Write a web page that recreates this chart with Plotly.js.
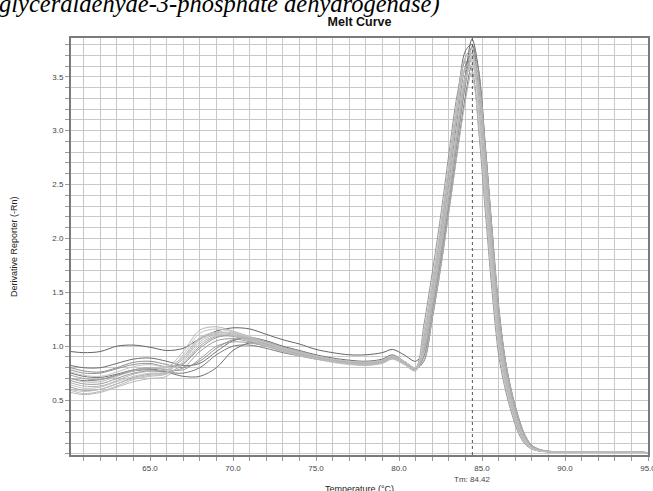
<!DOCTYPE html>
<html>
<head>
<meta charset="utf-8">
<script src="https://cdn.plot.ly/plotly-3.0.1.min.js"></script>
<style>html,body{margin:0;padding:0;background:#fff;overflow:hidden}#chart{width:653px;height:491px}</style>
</head>
<body>
<div id="chart"></div>
<script>
// Temperature grid (°C)
const temps = [60.24, 61, 62, 63, 64, 65, 66, 67, 68, 69, 70, 71, 72, 73, 74, 75, 76, 77, 78, 79, 79.6, 80.3, 81,
  81.5, 82, 82.5, 83, 83.5, 84, 84.4, 84.8, 85.2, 85.6, 86, 86.4, 86.8, 87.2, 87.6, 88, 88.5, 89, 90, 91, 92, 93, 94, 95];

// Derivative reporter (-Rn) per well
const wellL1 = [0.57,0.55,0.57,0.62,0.67,0.70,0.72,0.86,1.04,1.11,1.10,1.05,1.00,0.95,0.91,0.88,0.85,0.83,0.82,0.84,0.88,0.83,0.77,
  1.14,1.60,2.12,2.70,3.26,3.58,3.50,3.05,2.32,1.60,0.98,0.64,0.40,0.21,0.10,0.048,0.027,0.02,0.018,0.017,0.017,0.019,0.017,0.012];
const wellL2 = [0.64,0.61,0.62,0.67,0.72,0.75,0.76,0.92,1.12,1.16,1.13,1.08,1.03,0.98,0.94,0.90,0.87,0.85,0.84,0.86,0.90,0.85,0.79,
  1.01,1.45,1.94,2.47,3.04,3.50,3.60,3.28,2.56,1.82,1.14,0.74,0.47,0.27,0.13,0.06,0.03,0.02,0.019,0.018,0.018,0.02,0.018,0.012];
const wellL3 = [0.70,0.67,0.67,0.72,0.77,0.80,0.80,0.95,1.15,1.18,1.14,1.09,1.04,0.99,0.95,0.91,0.88,0.86,0.85,0.87,0.91,0.86,0.80,
  0.94,1.35,1.84,2.37,2.94,3.46,3.68,3.45,2.76,1.98,1.27,0.81,0.52,0.30,0.15,0.07,0.034,0.022,0.02,0.018,0.018,0.02,0.018,0.012];
const wellL4 = [0.60,0.58,0.60,0.65,0.70,0.73,0.75,0.90,1.08,1.13,1.11,1.06,1.01,0.96,0.92,0.89,0.86,0.84,0.83,0.85,0.89,0.84,0.78,
  1.05,1.50,2.00,2.56,3.14,3.58,3.64,3.20,2.48,1.74,1.08,0.70,0.44,0.25,0.12,0.055,0.03,0.02,0.019,0.018,0.018,0.02,0.018,0.012];
const wellL5 = [0.66,0.63,0.63,0.68,0.74,0.77,0.78,0.88,1.06,1.12,1.12,1.07,1.02,0.97,0.93,0.90,0.87,0.85,0.84,0.86,0.90,0.85,0.79,
  0.87,1.26,1.72,2.24,2.78,3.28,3.54,3.42,2.82,2.08,1.36,0.87,0.56,0.33,0.17,0.08,0.04,0.025,0.02,0.019,0.018,0.02,0.018,0.013];
const wellL6 = [0.76,0.73,0.72,0.76,0.81,0.83,0.81,0.90,1.07,1.13,1.12,1.08,1.03,0.98,0.94,0.91,0.88,0.86,0.85,0.87,0.91,0.86,0.80,
  1.10,1.56,2.08,2.66,3.24,3.68,3.70,3.15,2.40,1.67,1.02,0.66,0.41,0.22,0.11,0.05,0.028,0.02,0.018,0.018,0.017,0.019,0.017,0.012];
const wellL7 = [0.59,0.56,0.58,0.63,0.69,0.72,0.74,0.84,1.02,1.10,1.10,1.06,1.01,0.96,0.92,0.89,0.86,0.84,0.83,0.85,0.89,0.84,0.78,
  0.98,1.41,1.90,2.43,3.00,3.48,3.62,3.36,2.67,1.90,1.20,0.77,0.49,0.28,0.14,0.063,0.031,0.021,0.02,0.018,0.018,0.02,0.018,0.012];
const wellM1 = [0.78,0.75,0.75,0.79,0.83,0.84,0.81,0.84,0.98,1.08,1.10,1.07,1.03,0.98,0.94,0.91,0.88,0.86,0.85,0.87,0.91,0.86,0.80,
  1.20,1.68,2.20,2.78,3.33,3.64,3.56,3.00,2.25,1.52,0.92,0.60,0.37,0.19,0.09,0.045,0.025,0.02,0.018,0.017,0.017,0.019,0.017,0.012];
const wellM2 = [0.68,0.65,0.65,0.70,0.75,0.77,0.76,0.80,0.95,1.05,1.07,1.04,1.00,0.96,0.93,0.90,0.87,0.85,0.84,0.86,0.90,0.85,0.79,
  0.97,1.40,1.90,2.44,3.02,3.52,3.66,3.40,2.70,1.92,1.21,0.78,0.50,0.29,0.14,0.065,0.032,0.021,0.02,0.018,0.018,0.02,0.018,0.012];
const wellM3 = [0.73,0.70,0.69,0.73,0.78,0.80,0.78,0.78,0.88,1.00,1.04,1.03,1.00,0.96,0.92,0.89,0.86,0.84,0.83,0.85,0.89,0.84,0.78,
  1.04,1.50,2.00,2.57,3.17,3.68,3.76,3.28,2.52,1.77,1.09,0.71,0.45,0.25,0.12,0.055,0.03,0.02,0.019,0.018,0.018,0.02,0.018,0.012];
const wellM4 = [0.62,0.59,0.60,0.65,0.71,0.74,0.75,0.83,1.00,1.09,1.09,1.05,1.00,0.95,0.92,0.89,0.86,0.84,0.83,0.85,0.89,0.84,0.78,
  0.90,1.30,1.78,2.31,2.88,3.42,3.70,3.50,2.83,2.05,1.33,0.85,0.55,0.32,0.16,0.075,0.037,0.023,0.02,0.019,0.018,0.02,0.018,0.013];
const wellM5 = [0.80,0.77,0.76,0.80,0.85,0.86,0.83,0.80,0.86,0.98,1.06,1.07,1.04,0.99,0.95,0.91,0.88,0.86,0.85,0.87,0.91,0.86,0.80,
  0.91,1.32,1.80,2.33,2.90,3.44,3.78,3.55,2.85,2.06,1.34,0.86,0.55,0.32,0.16,0.075,0.037,0.023,0.02,0.019,0.018,0.02,0.018,0.013];
const wellD1 = [0.95,0.94,0.95,1.00,1.01,0.99,0.96,0.98,1.07,1.14,1.17,1.16,1.11,1.06,1.02,0.97,0.94,0.92,0.92,0.94,0.97,0.92,0.86,
  0.96,1.36,1.85,2.38,2.96,3.52,3.85,3.56,2.80,2.00,1.28,0.82,0.53,0.31,0.15,0.07,0.035,0.022,0.02,0.018,0.018,0.02,0.018,0.012];
const wellD2 = [0.82,0.80,0.80,0.84,0.88,0.89,0.86,0.82,0.84,0.95,1.05,1.08,1.05,1.00,0.96,0.92,0.89,0.87,0.86,0.88,0.92,0.86,0.80,
  1.08,1.55,2.06,2.65,3.25,3.74,3.80,3.22,2.45,1.70,1.04,0.68,0.42,0.23,0.11,0.05,0.028,0.02,0.018,0.018,0.017,0.019,0.017,0.012];
const wellD3 = [0.75,0.72,0.71,0.74,0.78,0.79,0.76,0.72,0.72,0.80,0.96,1.03,1.02,0.98,0.94,0.90,0.87,0.85,0.84,0.86,0.90,0.85,0.79,
  0.86,1.25,1.72,2.25,2.80,3.32,3.60,3.47,2.86,2.10,1.38,0.88,0.57,0.34,0.17,0.08,0.04,0.025,0.02,0.019,0.018,0.02,0.018,0.013];
const wellD4 = [0.70,0.68,0.69,0.73,0.77,0.78,0.76,0.75,0.80,0.92,1.00,1.01,0.98,0.94,0.91,0.88,0.86,0.84,0.83,0.85,0.89,0.84,0.78,
  1.00,1.45,1.95,2.50,3.10,3.60,3.72,3.35,2.60,1.85,1.15,0.75,0.48,0.27,0.13,0.06,0.03,0.02,0.02,0.018,0.018,0.02,0.018,0.012];

const xTickVals = [65, 70, 75, 80, 85, 90, 95];
const xTickText = ["65.0", "70.0", "75.0", "80.0", "85.0", "90.0", "95.0"];
const yTickVals = [0.5, 1.0, 1.5, 2.0, 2.5, 3.0, 3.5];
const yTickText = ["0.5", "1.0", "1.5", "2.0", "2.5", "3.0", "3.5"];
const tmValue = 84.42;

const wells = [
  [wellD4, '#7a7a7a'], [wellD3, '#727272'], [wellD2, '#6c6c6c'], [wellD1, '#646464'],
  [wellM1, '#959595'], [wellM2, '#9a9a9a'], [wellM3, '#a0a0a0'], [wellM4, '#a4a4a4'], [wellM5, '#8e8e8e'],
  [wellL1, '#bababa'], [wellL2, '#c2c2c2'], [wellL3, '#b6b6b6'], [wellL4, '#bebebe'],
  [wellL5, '#b2b2b2'], [wellL6, '#c4c4c4'], [wellL7, '#bcbcbc']
];

const traces = wells.map(([ys, c]) => ({
  x: temps, y: ys, type: 'scatter', mode: 'lines',
  line: {color: c, width: 1, shape: 'spline', smoothing: 0.9},
  hoverinfo: 'skip', showlegend: false
}));

const F = 'Liberation Sans, Arial, sans-serif';
const gridC = '#c8c8c8';

const layout = {
  width: 653, height: 491,
  margin: {l: 71, r: 5, t: 38, b: 36, pad: 0},
  paper_bgcolor: '#fff', plot_bgcolor: '#fff',
  showlegend: false,
  title: {text: '<b>Melt Curve</b>', font: {family: F, size: 12.5, color: '#111'}, x: 0.5, xref: 'paper', xanchor: 'center', y: 0.956, yref: 'container', yanchor: 'middle', automargin: false},
  xaxis: {
    range: [60.24, 95], tickmode: 'array', tickvals: xTickVals, ticktext: xTickText,
    ticks: 'outside', ticklen: 4, tickcolor: '#999', tickwidth: 1, ticklabeloverflow: 'allow',
    showgrid: true, gridcolor: gridC, gridwidth: 1,
    minor: {tickmode: 'linear', tick0: 60, dtick: 1, showgrid: true, gridcolor: gridC, gridwidth: 1, ticks: 'outside', ticklen: 4, tickcolor: '#999'},
    showline: true, linecolor: '#7a7a7a', linewidth: 2, mirror: true, zeroline: false,
    tickfont: {family: F, size: 8, color: '#444'}, fixedrange: true
  },
  yaxis: {
    range: [-0.01, 3.86], tickmode: 'array', tickvals: yTickVals, ticktext: yTickText,
    ticks: 'outside', ticklen: 4, tickcolor: '#999', tickwidth: 1,
    showgrid: true, gridcolor: gridC, gridwidth: 1,
    minor: {tickmode: 'linear', tick0: 0, dtick: 0.1, showgrid: true, gridcolor: gridC, gridwidth: 1, ticks: 'outside', ticklen: 4, tickcolor: '#999'},
    showline: true, linecolor: '#7a7a7a', linewidth: 2, mirror: true, zeroline: false,
    tickfont: {family: F, size: 8, color: '#444'}, fixedrange: true
  },
  shapes: [{type: 'line', xref: 'x', yref: 'paper', x0: tmValue, x1: tmValue, y0: 0, y1: 1,
    line: {color: '#555', width: 1, dash: 'dot'}}],
  annotations: [
    {text: 'glyceraldehyde-3-phosphate dehydrogenase)', xref: 'paper', yref: 'paper',
     x: -74/577, y: (455 - 20)/417, xanchor: 'left', yanchor: 'bottom', showarrow: false,
     font: {family: 'Liberation Serif, Times New Roman, serif', size: 24.5, color: '#000', style: 'italic'}},
    {text: 'Tm: ' + tmValue.toFixed(2), xref: 'x', yref: 'paper', x: tmValue, y: (455 - 479)/417,
     xanchor: 'center', yanchor: 'middle', showarrow: false, font: {family: F, size: 8, color: '#444'}},
    {text: 'Temperature (°C)', xref: 'paper', yref: 'paper', x: 0.5, y: (455 - 489)/417,
     xanchor: 'center', yanchor: 'middle', showarrow: false, font: {family: F, size: 9, color: '#222'}},
    {text: 'Derivative Reporter (-Rn)', xref: 'paper', yref: 'paper', x: (13.5 - 71)/577, y: 0.5,
     xanchor: 'center', yanchor: 'middle', textangle: -90, showarrow: false, font: {family: F, size: 9, color: '#222'}}
  ]
};

Plotly.newPlot('chart', traces, layout, {displayModeBar: false, staticPlot: true});
</script>
</body>
</html>
